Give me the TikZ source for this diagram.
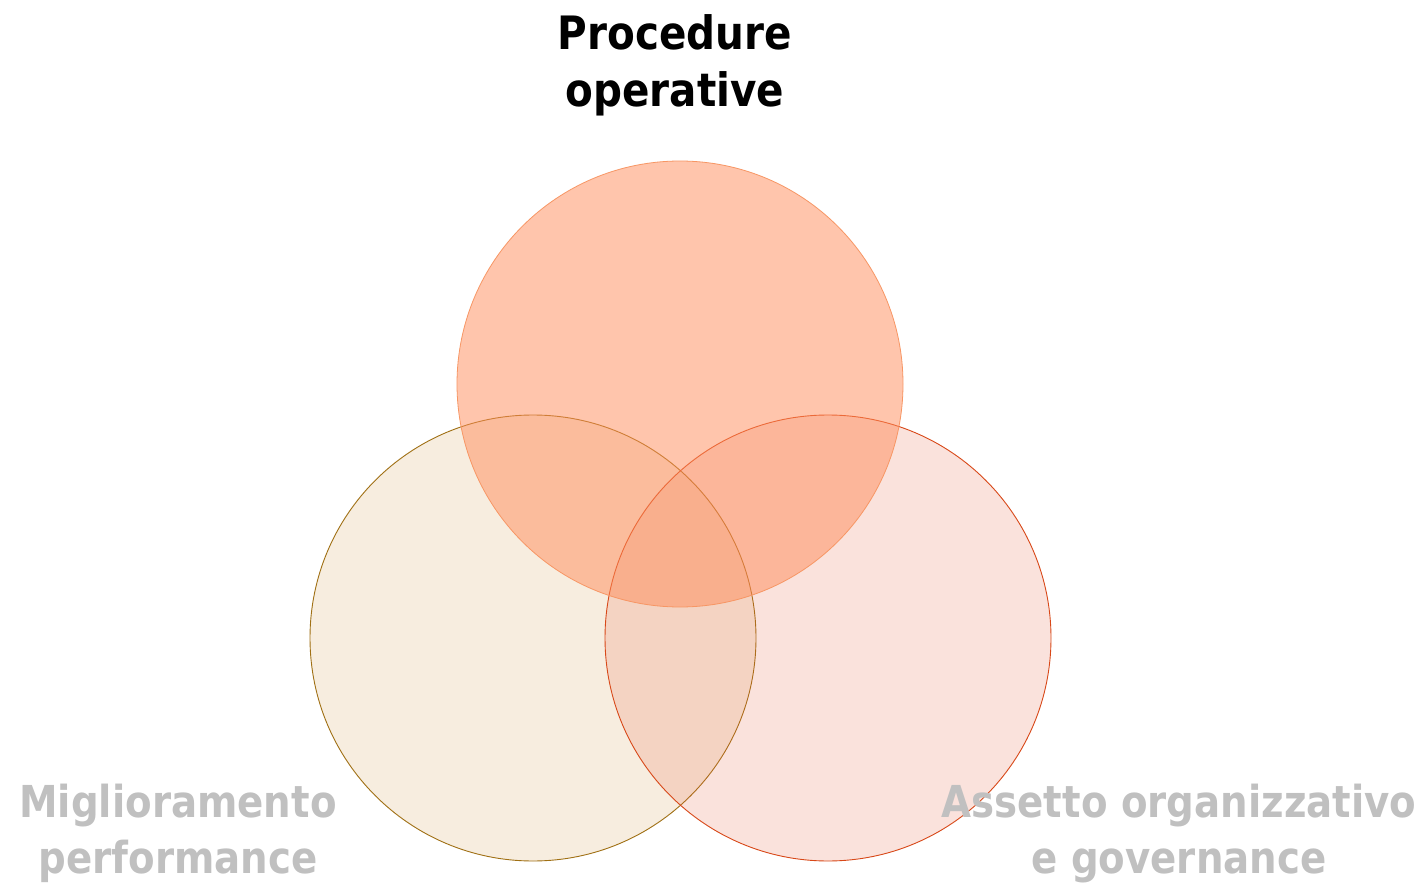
\documentclass[tikz,border=0pt]{standalone}
\usepackage{fontspec}
\newfontfamily\labfont[FakeStretch=0.88]{DejaVu Sans}
\begin{document}
\begin{tikzpicture}[x=1pt,y=-1pt,
  lab/.style={font=\labfont\bfseries\fontsize{44}{56}\selectfont, align=center, inner sep=0pt},
  ring/.style={circle, minimum size=446pt, inner sep=0pt}]
\useasboundingbox (0,0) rectangle (1425,885);
\fill[white] (0,0) rectangle (1425,885);
\node[ring, draw={rgb,255:red,160;green,112;blue,20}, line width=0.9pt,
  fill={rgb,255:red,217;green,168;blue,96}, fill opacity=0.2] (left) at (533,638) {};
\node[ring, draw={rgb,255:red,216;green,72;blue,24}, line width=0.9pt,
  fill={rgb,255:red,232;green,96;blue,64}, fill opacity=0.18] (right) at (828,638) {};
\node[ring, draw={rgb,255:red,247;green,150;blue,100}, line width=0.8pt,
  fill={rgb,255:red,255;green,140;blue,90}, fill opacity=0.5] (top) at (680,384) {};
\node[lab, font=\labfont\bfseries\fontsize{46}{57}\selectfont, text=black, anchor=base] (ttl) at (675,107) {Procedure\\operative};
\node[lab, text={rgb,255:red,192;green,192;blue,192}, anchor=base] (lft) at (178,873) {Miglioramento\\performance};
\node[lab, text={rgb,255:red,192;green,192;blue,192}, anchor=base] (rgt) at (1179,873) {Assetto organizzativo\\e governance};
\end{tikzpicture}
\end{document}
